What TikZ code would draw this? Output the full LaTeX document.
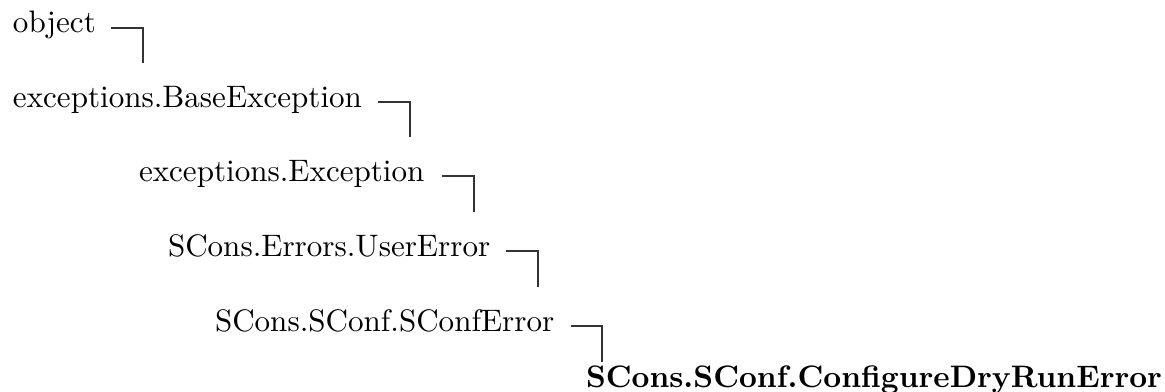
\documentclass[tikz,border=0pt]{standalone}
\begin{document}
\begin{tikzpicture}[x=0.3219pt,y=-0.3219pt,
  cls/.style={anchor=base west,inner sep=0pt,outer sep=0pt,font=\fontsize{10}{12}\selectfont},
  link/.style={draw=black!80,line width=0.45pt}]
\useasboundingbox (0,0) rectangle (1165,392);
\node[cls] (obj) at (13,33) {object};
\node[cls] (base) at (13,108) {exceptions.BaseException};
\node[cls] (exc) at (139,182) {exceptions.Exception};
\node[cls] (user) at (168,257) {SCons.Errors.UserError};
\node[cls] (sconf) at (215,332) {SCons.SConf.SConfError};
\node[cls,font=\fontsize{10}{12}\selectfont\bfseries] (dry) at (586,388) {SCons.SConf.ConfigureDryRunError};
\coordinate (c1) at (143,63);
\coordinate (c2) at (410,137);
\coordinate (c3) at (474,212);
\coordinate (c4) at (538,287);
\coordinate (c5) at (602,362);
\draw[link] (obj.base east) ++(15,-5) -| (c1);
\draw[link] (base.base east) ++(16,-6) -| (c2);
\draw[link] (exc.base east) ++(18,-6) -| (c3);
\draw[link] (user.base east) ++(16,-6) -| (c4);
\draw[link] (sconf.base east) ++(17,-6) -| (c5);
\end{tikzpicture}
\end{document}
